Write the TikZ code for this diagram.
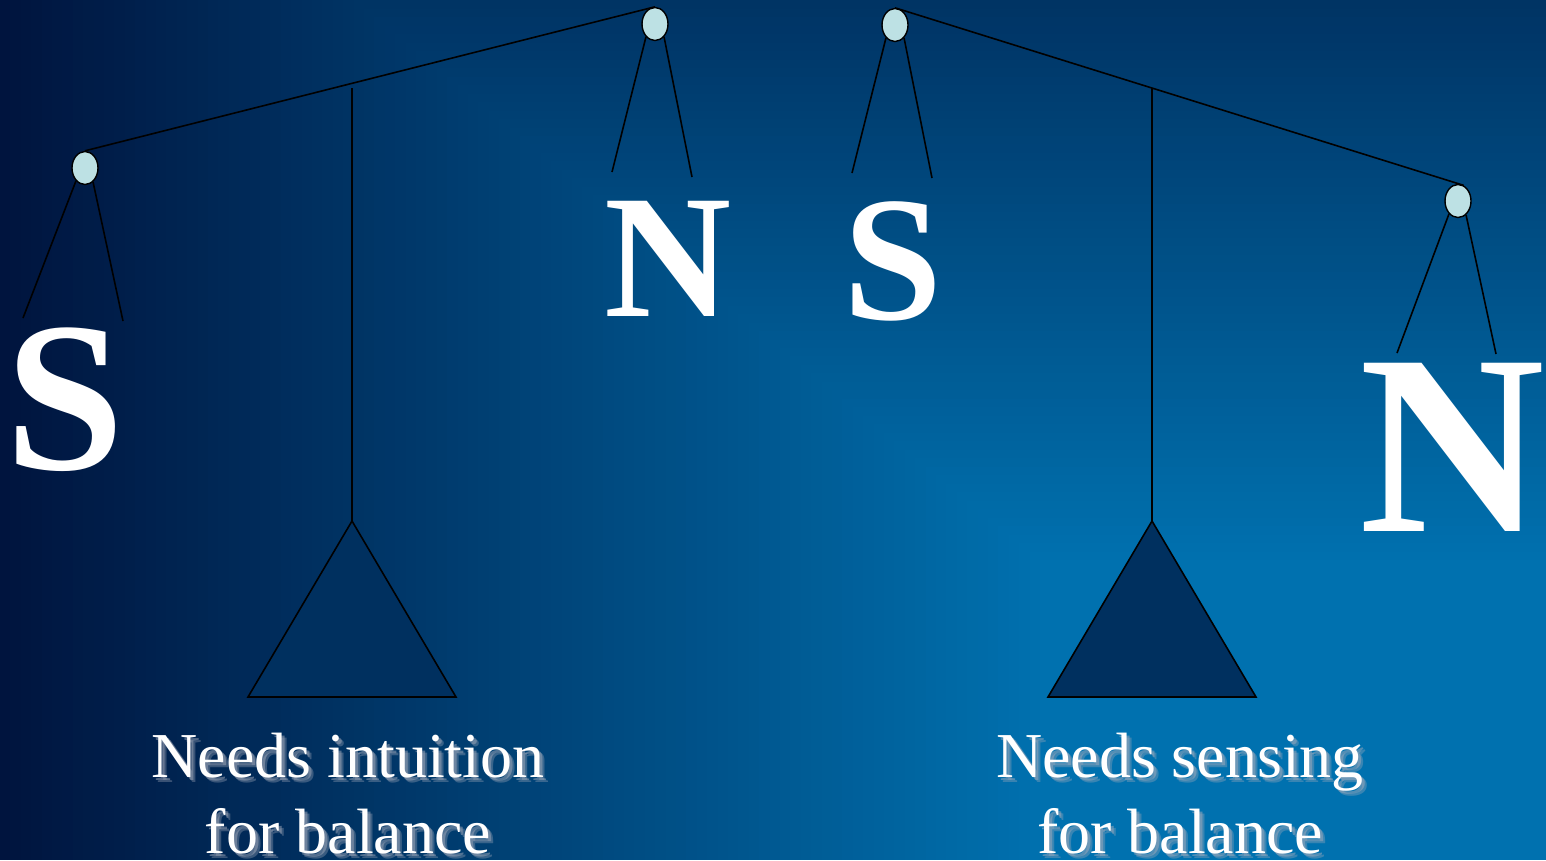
\documentclass[tikz,border=0pt]{standalone}
\usepackage{fontspec}
\setmainfont{Liberation Serif}
\usetikzlibrary{shapes.geometric}
\definecolor{bgdark}{HTML}{00143E}
\definecolor{bgbright}{HTML}{0071AF}
\definecolor{knobfill}{HTML}{BDE1E4}
\definecolor{panfill}{HTML}{00305F}
\definecolor{shadowgray}{HTML}{A4ABBB}
\tikzset{
  knob/.style={draw=black, line width=1.4pt, fill=knobfill, ellipse, minimum width=26pt, minimum height=33pt, inner sep=0pt},
  rod/.style={draw=black, line width=1.6pt},
  pan/.style={draw=black, line width=1.6pt, fill=panfill, line join=miter},
  bigletter/.style={text=white, inner sep=0pt, anchor=base, font=\bfseries\fontsize{#1}{#1}\selectfont},
  caption/.style={text=white, inner sep=0pt, anchor=base, font=\fontsize{64}{76}\selectfont},
  captionshadow/.style={text=shadowgray, opacity=#1, inner sep=0pt, anchor=base, font=\fontsize{64}{76}\selectfont}
}
\begin{document}
\begin{tikzpicture}[x=1pt,y=-1pt]
\useasboundingbox (0,0) rectangle (1546,860);
\clip (0,0) rectangle (1546,860);
% background: rectangular gradient toward the lower right
\foreach \i in {100,99,...,0} {
  \fill[bgdark!\i!bgbright] ({1040-10.4*\i},{560-8.48*\i}) rectangle (1546,860);
}

% ---------- left balance ----------
\node[knob] (k1) at (85,168) {};
\node[knob] (k2) at (655,24) {};
\coordinate (p1top) at (352,88);
\coordinate (p1apex) at (352,521);
\coordinate (p1bl) at (248,697);
\coordinate (p1br) at (456,697);
\draw[rod] (k1.north) -- (k2.north);
\draw[rod] (p1top) -- (p1apex);
\draw[pan] (p1apex) -- (p1br) -- (p1bl) -- cycle;
\coordinate (k1l) at (23,318);
\coordinate (k1r) at (123,321);
\coordinate (k2l) at (612,172);
\coordinate (k2r) at (692,177);
\draw[rod] (k1.235) -- (k1l);
\draw[rod] (k1.300) -- (k1r);
\draw[rod] (k2.235) -- (k2l);
\draw[rod] (k2.305) -- (k2r);
\node[bigletter=214] (s1) at (65,469) {S};
\node[bigletter=176] (n1) at (668,316) {N};

% ---------- right balance ----------
\node[knob] (k3) at (895,25) {};
\node[knob] (k4) at (1458,201) {};
\coordinate (p2top) at (1152,88);
\coordinate (p2apex) at (1152,521);
\coordinate (p2bl) at (1048,697);
\coordinate (p2br) at (1256,697);
\draw[rod] (k3.north) -- (k4.70);
\draw[rod] (p2top) -- (p2apex);
\draw[pan] (p2apex) -- (p2br) -- (p2bl) -- cycle;
\coordinate (k3l) at (852,173);
\coordinate (k3r) at (932,178);
\coordinate (k4l) at (1397,353);
\coordinate (k4r) at (1496,354);
\draw[rod] (k3.235) -- (k3l);
\draw[rod] (k3.305) -- (k3r);
\draw[rod] (k4.235) -- (k4l);
\draw[rod] (k4.300) -- (k4r);
\node[bigletter=178] (s2) at (893,319) {S};
\node[bigletter=257] (n2) at (1452,531) {N};

% ---------- captions ----------
\node[captionshadow=0.5] (t1as) at (351,780) {Needs intuition};
\node[captionshadow=0.35] (t1as2) at (353,782) {Needs intuition};
\node[caption] (t1a) at (348,777) {Needs intuition};
\node[captionshadow=0.5] (t1bs) at (351,856) {for balance};
\node[captionshadow=0.35] (t1bs2) at (353,858) {for balance};
\node[caption] (t1b) at (348,853) {for balance};

\node[captionshadow=0.5] (t2as) at (1183,780) {Needs sensing};
\node[captionshadow=0.35] (t2as2) at (1185,782) {Needs sensing};
\node[caption] (t2a) at (1180,777) {Needs sensing};
\node[captionshadow=0.5] (t2bs) at (1183,856) {for balance};
\node[captionshadow=0.35] (t2bs2) at (1185,858) {for balance};
\node[caption] (t2b) at (1180,853) {for balance};
\end{tikzpicture}
\end{document}
